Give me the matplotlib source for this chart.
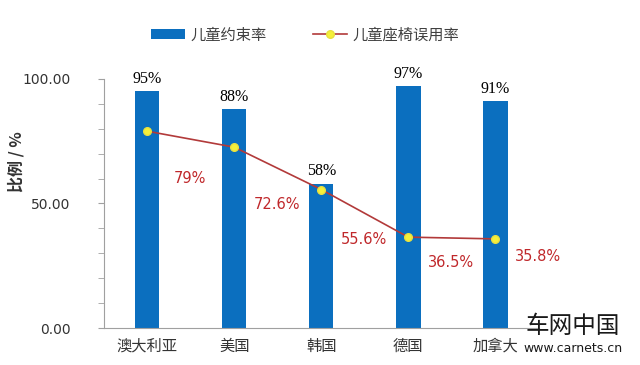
import matplotlib.pyplot as plt
from matplotlib.ticker import MultipleLocator

plt.rcParams['font.family'] = ['Noto Sans CJK SC', 'DejaVu Sans']

# data
countries = ["澳大利亚", "美国", "韩国", "德国", "加拿大"]
restraint = [95, 88, 58, 97, 91]          # 儿童约束率
misuse = [79, 72.6, 55.6, 36.5, 35.8]      # 儿童座椅误用率
misuse_labels = ["79%", "72.6%", "55.6%", "36.5%", "35.8%"]

# label offsets for the line values (points)
line_lab_dy = [-34, -41, -36, -18, -13]

fig = plt.figure(figsize=(6.4, 3.65), dpi=100)
ax = fig.add_axes([0.162, 0.101, 0.68, 0.683])

x = range(len(countries))
bars = ax.bar(x, restraint, width=0.28, color="#0B6FBF", label="儿童约束率", zorder=2)
line, = ax.plot(x, misuse, color="#B23A3A", lw=1.2, marker="o", ms=5.5,
                mfc="#F5F03A", mec="#E8E040", label="儿童座椅误用率", zorder=3)

for xi, v in zip(x, restraint):
    ax.annotate(f"{v}%", (xi, v), xytext=(0, 3), textcoords="offset points",
                ha="center", va="bottom", fontsize=11.5,
                family=["Liberation Serif", "DejaVu Serif"], color="black")

for xi, v, lab, dy in zip(x, misuse, misuse_labels, line_lab_dy):
    ax.annotate(lab, (xi, v), xytext=(31, dy), textcoords="offset points",
                ha="center", va="center", fontsize=10.5, color="#C0282B",
                family=["DejaVu Sans"])

ax.set_xlim(-0.5, 4.5)
ax.set_ylim(0, 100)
ax.set_xticks(list(x))
ax.set_xticklabels(countries, fontsize=11, color="#333333")
ax.tick_params(axis="x", length=0, pad=7)
ax.set_yticks([0, 50, 100])
ax.set_yticklabels(["0.00", "50.00", "100.00"], fontsize=10, color="#333333",
                   family=["DejaVu Sans"])
ax.yaxis.set_minor_locator(MultipleLocator(10))
ax.tick_params(axis="y", which="both", direction="out", length=4, color="#A0A0A0", pad=20)

for s in ["top", "right"]:
    ax.spines[s].set_visible(False)
ax.spines["left"].set_color("#A0A0A0")
ax.spines["bottom"].set_color("#A0A0A0")

fig.text(0.025, 0.556, "比例 / %", rotation=90, ha="center", va="center",
         fontsize=11.5, fontweight="bold", color="#333333")

fig.legend([bars, line], ["儿童约束率", "儿童座椅误用率"], loc="center",
           bbox_to_anchor=(0.477, 0.904), ncol=2, frameon=False,
           fontsize=11, handlelength=2.2, handleheight=0.6, columnspacing=3.0,
           handletextpad=0.4, labelcolor="#404040")

# watermark
fig.text(0.895, 0.105, "车网中国", ha="center", va="center", fontsize=17, color="#1a1a1a")
fig.text(0.895, 0.045, "www.carnets.cn", ha="center", va="center", fontsize=9,
         color="#1a1a1a", family=["DejaVu Sans"])

fig.savefig("out.png", dpi=100)
